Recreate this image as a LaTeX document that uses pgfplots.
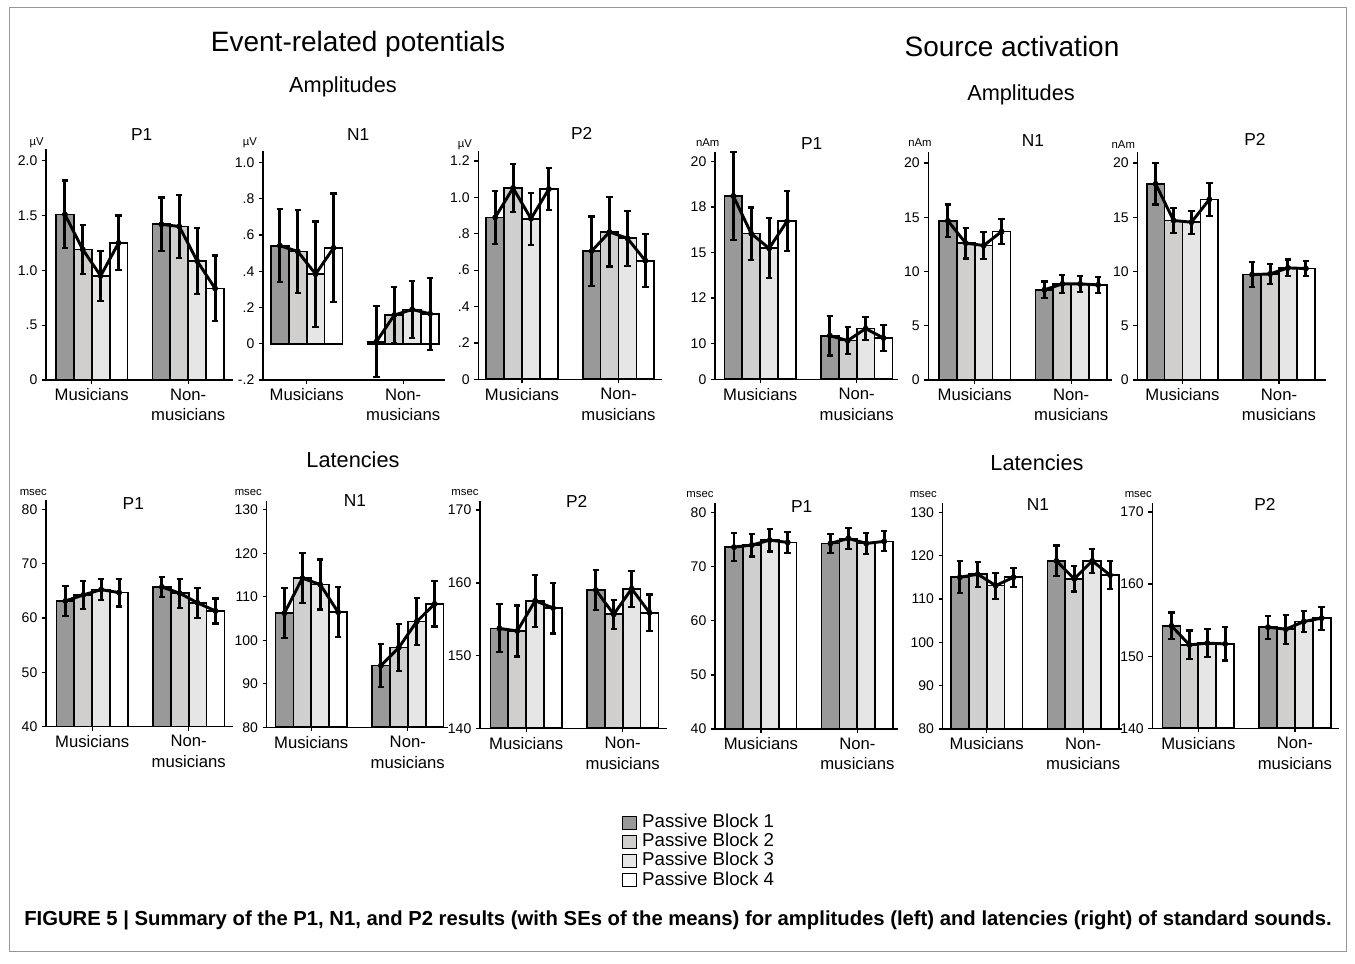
\documentclass[border=0pt]{standalone}
\usepackage{pgfplots}
\pgfplotsset{compat=1.18}
\usepackage{pgfplotstable}
\usepackage{fontspec}
\setmainfont{Liberation Sans}
\definecolor{cA}{RGB}{153,153,153}
\definecolor{cB}{RGB}{208,207,205}
\definecolor{cC}{RGB}{229,230,229}
\definecolor{cD}{RGB}{255,255,255}
\definecolor{frame}{RGB}{150,150,150}

% grp: 0 = Musicians, 1 = Non-musicians; blk: Passive Block 1..4
\pgfplotstableread{
grp blk val err
0 1 1.51 0.31
0 2 1.19 0.22
0 3 0.95 0.23
0 4 1.25 0.25
1 1 1.42 0.245
1 2 1.40 0.29
1 3 1.085 0.30
1 4 0.835 0.30
}\tA
\pgfplotstableread{
grp blk val err
0 1 0.541 0.20
0 2 0.509 0.23
0 3 0.384 0.29
0 4 0.529 0.30
1 1 0.011 0.195
1 2 0.158 0.156
1 3 0.189 0.156
1 4 0.165 0.198
}\tB
\pgfplotstableread{
grp blk val err
0 1 0.890 0.145
0 2 1.052 0.13
0 3 0.883 0.143
0 4 1.046 0.117
1 1 0.705 0.19
1 2 0.810 0.19
1 3 0.775 0.15
1 4 0.652 0.145
}\tC
\pgfplotstableread{
grp blk val err
0 1 18.11 2.43
0 2 16.04 1.44
0 3 15.23 1.65
0 4 16.72 1.66
1 1 10.42 1.09
1 2 10.15 0.76
1 3 10.81 0.65
1 4 10.29 0.72
}\tD
\pgfplotstableread{
grp blk val err
0 1 14.68 1.5
0 2 12.62 1.42
0 3 12.40 1.25
0 4 13.69 1.14
1 1 8.31 0.77
1 2 8.86 0.82
1 3 8.86 0.71
1 4 8.77 0.72
}\tE
\pgfplotstableread{
grp blk val err
0 1 18.09 1.9
0 2 14.71 1.17
0 3 14.55 1.05
0 4 16.65 1.49
1 1 9.72 1.18
1 2 9.78 0.95
1 3 10.34 0.77
1 4 10.28 0.72
}\tF
\pgfplotstableread{
grp blk val err
0 1 63.13 2.7
0 2 64.23 2.55
0 3 65.21 1.9
0 4 64.66 2.55
1 1 65.71 1.9
1 2 64.54 2.67
1 3 62.76 2.8
1 4 61.29 2.3
}\tG
\pgfplotstableread{
grp blk val err
0 1 106.23 5.8
0 2 114.28 5.8
0 3 112.82 5.75
0 4 106.46 5.8
1 1 94.19 4.95
1 2 98.33 5.4
1 3 104.31 5.45
1 4 108.37 5.2
}\tH
\pgfplotstableread{
grp blk val err
0 1 153.74 3.3
0 2 153.38 3.5
0 3 157.54 3.6
0 4 156.54 3.5
1 1 159.01 2.7
1 2 155.67 2.0
1 3 159.19 2.5
1 4 155.90 2.5
}\tI
\pgfplotstableread{
grp blk val err
0 1 73.6 2.55
0 2 73.97 2.1
0 3 74.89 2.1
0 4 74.46 2.0
1 1 74.28 1.7
1 2 75.2 2.0
1 3 74.28 2.0
1 4 74.65 1.85
}\tJ
\pgfplotstableread{
grp blk val err
0 1 115.0 3.65
0 2 115.7 2.9
0 3 113.08 3.0
0 4 115.0 2.2
1 1 118.77 3.55
1 2 114.62 2.9
1 3 118.77 2.8
1 4 115.5 3.3
}\tK
\pgfplotstableread{
grp blk val err
0 1 154.21 1.85
0 2 151.57 2.0
0 3 151.81 1.95
0 4 151.71 2.3
1 1 154.03 1.6
1 2 153.75 2.0
1 3 154.81 1.5
1 4 155.28 1.6
}\tL

\pgfplotsset{
  barbase/.style={ybar, bar shift=0pt, bar width=0.1855, draw=black, line width=1.3pt},
  bA/.style={barbase, fill=cA},
  bB/.style={barbase, fill=cB},
  bC/.style={barbase, fill=cC},
  bD/.style={barbase, fill=cD},
  conn/.style={forget plot, black, line width=2.2pt, mark=none, line join=round},
  errs/.style={forget plot, only marks, mark=none,
    error bars/y dir=both, error bars/y explicit,
    error bars/error bar style={line width=2.2pt, black},
    error bars/error mark options={rotate=90, mark size=2.4pt, line width=1.6pt, black}},
  panel/.style={scale only axis, anchor=south west,
    axis lines=left, axis line style={-, line width=1.1pt},
    enlargelimits=false,
    xtick={0,1}, xticklabels={Musicians,{Non-\\musicians}},
    xticklabel style={align=center, font=\fontsize{12.5}{15.5}\selectfont},
    yticklabel style={font=\fontsize{10.5}{12}\selectfont, /pgf/number format/assume math mode=true},
    tick align=outside, major tick length=3pt, tick style={line width=1pt, black}},
}

\newcommand{\bars}[1]{%
  \addplot[bA] table[x expr=\thisrow{grp}-0.27825, y=val, restrict expr to domain={\thisrow{blk}}{0.5:1.5}]{#1};
  \addplot[bB] table[x expr=\thisrow{grp}-0.09275, y=val, restrict expr to domain={\thisrow{blk}}{1.5:2.5}]{#1};
  \addplot[bC] table[x expr=\thisrow{grp}+0.09275, y=val, restrict expr to domain={\thisrow{blk}}{2.5:3.5}]{#1};
  \addplot[bD] table[x expr=\thisrow{grp}+0.27825, y=val, restrict expr to domain={\thisrow{blk}}{3.5:4.5}]{#1};
  \addplot[conn] table[x expr=\thisrow{grp}+(\thisrow{blk}-2.5)*0.1855, y=val, restrict expr to domain={\thisrow{grp}}{-0.5:0.5}]{#1};
  \addplot[conn] table[x expr=\thisrow{grp}+(\thisrow{blk}-2.5)*0.1855, y=val, restrict expr to domain={\thisrow{grp}}{0.5:1.5}]{#1};
  \addplot[errs] table[x expr=\thisrow{grp}+(\thisrow{blk}-2.5)*0.1855, y=val, y error=err]{#1};
}

\begin{document}
\begin{tikzpicture}
\path[use as bounding box] (0,0) rectangle (1016.25pt,722.25pt);

% ---------- Event-related potentials: amplitudes ----------
\begin{axis}[panel, at={(34.5pt,437.25pt)}, width=140.25pt, height=173.25pt,
  xmin=-0.474, xmax=1.464, ymin=0, ymax=2.107,
  ytick={0,0.5,1,1.5,2}, yticklabels={0,.5,1.0,1.5,2.0}]
\bars{\tA}
\end{axis}
\begin{axis}[panel, at={(197.25pt,437.25pt)}, width=136.5pt, height=171.98pt,
  xmin=-0.453, xmax=1.433, ymin=-0.2, ymax=1.065,
  ytick={-0.2,0,0.2,0.4,0.6,0.8,1.0}, yticklabels={-.2,0,.2,.4,.6,.8,1.0}]
\bars{\tB}
\end{axis}
\begin{axis}[panel, at={(358.73pt,437.78pt)}, width=138pt, height=171.45pt,
  xmin=-0.453, xmax=1.454, ymin=0, ymax=1.257,
  ytick={0,0.2,0.4,0.6,0.8,1.0,1.2}, yticklabels={0,.2,.4,.6,.8,1.0,1.2}]
\bars{\tC}
\end{axis}

% ---------- Source activation: amplitudes ----------
\begin{axis}[panel, at={(536.25pt,437.78pt)}, width=137.48pt, height=170.7pt,
  xmin=-0.468, xmax=1.431, ymin=8.02, ymax=20.55,
  ytick={8.02,10,12.5,15,17.5,20}, yticklabels={0,10,12,15,18,20}]
\bars{\tD}
\end{axis}
\begin{axis}[panel, at={(696.23pt,437.25pt)}, width=137.78pt, height=170.78pt,
  xmin=-0.481, xmax=1.423, ymin=0, ymax=21.0,
  ytick={0,5,10,15,20}]
\bars{\tE}
\end{axis}
\begin{axis}[panel, at={(852.98pt,437.25pt)}, width=141.3pt, height=170.78pt,
  xmin=-0.468, xmax=1.484, ymin=0, ymax=21.0,
  ytick={0,5,10,15,20}]
\bars{\tF}
\end{axis}

% ---------- Event-related potentials: latencies ----------
\begin{axis}[panel, at={(34.5pt,177.23pt)}, width=140.48pt, height=170.03pt,
  xmin=-0.479, xmax=1.462, ymin=40, ymax=81.7,
  ytick={40,50,60,70,80}]
\bars{\tG}
\end{axis}
\begin{axis}[panel, at={(200.03pt,176.78pt)}, width=136.2pt, height=169.95pt,
  xmin=-0.462, xmax=1.420, ymin=80, ymax=132.1,
  ytick={80,90,100,110,120,130}]
\bars{\tH}
\end{axis}
\begin{axis}[panel, at={(360pt,176.03pt)}, width=140.03pt, height=170.7pt,
  xmin=-0.479, xmax=1.456, ymin=140, ymax=171.3,
  ytick={140,150,160,170}]
\bars{\tI}
\end{axis}

% ---------- Source activation: latencies ----------
\begin{axis}[panel, at={(536.25pt,175.5pt)}, width=137.48pt, height=169.73pt,
  xmin=-0.475, xmax=1.425, ymin=40, ymax=81.8,
  ytick={40,50,60,70,80},
  legend entries={Passive Block 1,Passive Block 2,Passive Block 3,Passive Block 4},
  legend image code/.code={\draw[#1,/tikz/.cd,line width=0.8pt] (0pt,-4.8pt) rectangle (10pt,5pt);
     \path[draw=none,fill=none] (13.5pt,0pt) circle (0.01pt);},
  legend style={at={(-0.507,-0.372)}, anchor=north west, draw=none, fill=none,
    font=\fontsize{14}{15}\selectfont, inner sep=0pt, row sep=0pt,
    nodes={inner sep=1pt, text height=9.8pt, text depth=2.5pt}},
  legend cell align=left]
\bars{\tJ}
\end{axis}
\begin{axis}[panel, at={(707.03pt,175.5pt)}, width=134.48pt, height=169.73pt,
  xmin=-0.456, xmax=1.402, ymin=80, ymax=132.2,
  ytick={80,90,100,110,120,130}]
\bars{\tK}
\end{axis}
\begin{axis}[panel, at={(864.23pt,176.03pt)}, width=140.25pt, height=169.2pt,
  xmin=-0.477, xmax=1.461, ymin=140, ymax=171.3,
  ytick={140,150,160,170}]
\bars{\tL}
\end{axis}

% ---------- texts ----------
\begin{scope}[x=0.75pt,y=0.75pt]
\draw[frame, line width=0.75pt] (9,955) rectangle (1346,12);
\node[font=\fontsize{21}{24}\selectfont] at (358,919) {Event-related potentials};
\node[font=\fontsize{21}{24}\selectfont] at (1012,916) {Source activation};
\node[font=\fontsize{16.3}{19}\selectfont] at (343,876) {Amplitudes};
\node[font=\fontsize{16.3}{19}\selectfont] at (1021,868) {Amplitudes};
\node[font=\fontsize{16.3}{19}\selectfont] at (353,503) {Latencies};
\node[font=\fontsize{16.3}{19}\selectfont] at (1037,500) {Latencies};

\begin{scope}[every node/.style={font=\fontsize{13}{15}\selectfont}]
\node at (141.7,828) {P1};
\node at (358.3,828) {N1};
\node at (581.7,829.7) {P2};
\node at (811.7,819) {P1};
\node at (1033,822) {N1};
\node at (1255,824) {P2};
\node at (133.3,459) {P1};
\node at (355,462) {N1};
\node at (576.7,462) {P2};
\node at (801.7,456) {P1};
\node at (1038,458) {N1};
\node at (1265,459) {P2};
\end{scope}

\begin{scope}[every node/.style={font=\fontsize{8.5}{10}\selectfont}]
\node at (36.7,820.3) {µV};
\node at (250,820.3) {µV};
\node at (465,818) {µV};
\node at (707.7,820.3) {nAm};
\node at (920,820.3) {nAm};
\node at (1123.3,818) {nAm};
\node at (33.3,470.3) {msec};
\node at (248.3,470.3) {msec};
\node at (465,470.3) {msec};
\node at (700,468) {msec};
\node at (923.3,468) {msec};
\node at (1138.3,468) {msec};
\end{scope}

\node[anchor=west, inner sep=0pt, font=\bfseries\fontsize{15.2}{18}\selectfont] at (24,43)
  {FIGURE 5 | Summary of the P1, N1, and P2 results (with SEs of the means) for amplitudes (left) and latencies (right) of standard sounds.};
\end{scope}
\end{tikzpicture}
\end{document}
